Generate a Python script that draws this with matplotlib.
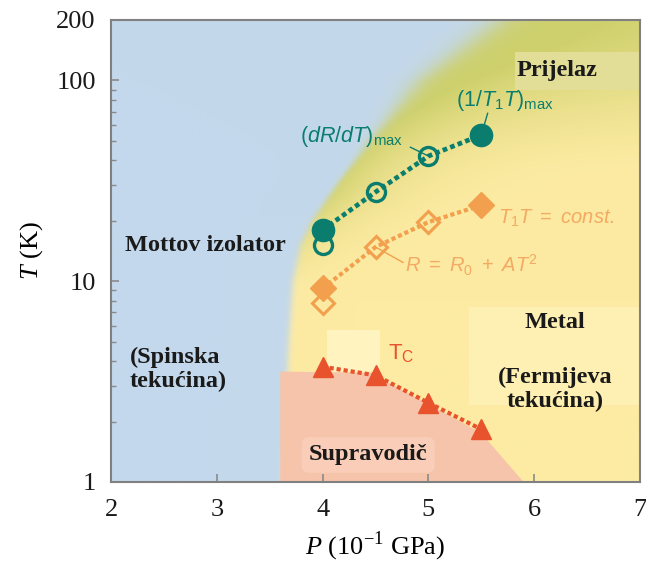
import numpy as np
import matplotlib
matplotlib.use("Agg")
import matplotlib.pyplot as plt
from matplotlib.patches import Rectangle

plt.rcParams['mathtext.fontset'] = 'custom'
plt.rcParams['mathtext.rm'] = 'Liberation Sans'
plt.rcParams['mathtext.it'] = 'Liberation Sans:italic'
plt.rcParams['mathtext.sf'] = 'Liberation Serif'
plt.rcParams['mathtext.bf'] = 'Liberation Serif:italic'

# ---- data (pressure in 10^-1 GPa, temperature in K) ----
P_nmr = [4.0, 5.5]                 # (1/T1T)max, filled circles
T_nmr_max = [18.0, 53.5]
P_res = [4.0, 4.5, 5.0]            # (dR/dT)max, open circles
T_dRdT_max = [15.1, 27.8, 42.0]
P_t1t = [4.0, 5.5]                 # T1T = const, filled diamonds
T_t1t_const = [9.2, 23.9]
P_fl = [4.0, 4.5, 5.0]             # R = R0 + AT^2, open diamonds
T_fl = [7.8, 14.8, 19.7]
P_sc = [4.0, 4.5, 5.0, 5.5]        # Tc, triangles
T_c = [3.75, 3.40, 2.48, 1.83]

# phase boundary Mott insulator / metal (log10 T -> P)
bound_logT = [0.0, 0.7, 1.0, 1.18, 1.3, 1.5, 1.7, 2.0, 2.31]
bound_P = [3.62, 3.68, 3.72, 3.79, 3.9, 4.16, 4.45, 4.92, 5.7]
# superconducting dome outline
sc_P = [3.6, 3.6, 4.45, 5.0, 5.5, 5.9]
sc_T = [1.0, 3.55, 3.5, 2.45, 1.75, 1.0]

xticks = [2, 3, 4, 5, 6, 7]
yticks = [1, 10, 100, 200]
xmin, xmax, ymin, ymax = 2, 7, 1, 200

fig = plt.figure(figsize=(6.46, 5.70), dpi=100)
ax = fig.add_axes([111/646, 1-482/570, (640-111)/646, (482-20)/570])
ax.set_xscale('linear')
ax.set_yscale('log')
ax.set_xlim(xmin, xmax)
ax.set_ylim(ymin, ymax)

# ---- background colour field ----
def smooth(a, b, x):
    t = np.clip((x - a) / (b - a), 0, 1)
    return t * t * (3 - 2 * t)

H, W = 500, 600
u = np.linspace(0, 1, W)
v = np.linspace(0, 1, H)
U, V = np.meshgrid(u, v)
X = xmin + (xmax - xmin) * U
LT = V * np.log10(ymax)
xb = np.interp(LT, bound_logT, bound_P)
d = X - xb
sig = 0.018 + 0.09 * smooth(1.5, 2.3, LT)
t = 1 / (1 + np.exp(-d / sig))
A = 0.9 * smooth(0.9, 1.5, LT)
s = 0.3 + 0.7 * smooth(1.0, 2.3, LT)
B = 0.65 * smooth(1.5, 2.3, LT)
w = np.clip(A * np.exp(-np.clip(d, 0, None) / s) + B, 0, 1)
blue = np.array([195, 216, 236]) / 255
yellow = np.array([253, 235, 163]) / 255
green = np.array([206, 208, 108]) / 255
other = yellow[None, None, :] * (1 - w[..., None]) + green[None, None, :] * w[..., None]
img = blue[None, None, :] * (1 - t[..., None]) + other * t[..., None]
ax.imshow(img, extent=(0, 1, 0, 1), transform=ax.transAxes, origin='lower',
          aspect='auto', zorder=0, interpolation='bilinear')

# superconducting region
ax.fill(sc_P, sc_T, color='#f6c4aa', lw=0, zorder=1)

# light label panels
ax.add_patch(Rectangle((5.82, 89.6), 1.18, 138.6 - 89.6, fc='#e2de98', ec='none', zorder=1.5))
ax.add_patch(Rectangle((5.38, 2.42), 1.62, 7.4 - 2.42, fc='#fef0b2', ec='none', zorder=1.5))
ax.add_patch(Rectangle((4.04, 3.53), 0.5, 5.72 - 3.53, fc='#fff4c0', ec='none', zorder=1.5))

teal = '#0a7d6e'
orange = '#f2a04e'
orange_txt = '#f4aa62'
red = '#e8522c'

# teal series line: filled -> open -> open -> filled
teal_P = [P_nmr[0], P_res[1], P_res[2], P_nmr[1]]
teal_T = [T_nmr_max[0], T_dRdT_max[1], T_dRdT_max[2], T_nmr_max[1]]
ax.plot(teal_P, teal_T, ls=(0, (1, 0.7)), lw=3.4, color=teal, zorder=3)
ax.plot(P_res, T_dRdT_max, ls='none', marker='o', ms=13, mfc='none', mec=teal, mew=2.4, zorder=4)
ax.plot(P_nmr, T_nmr_max, ls='none', marker='o', ms=16, mfc=teal, mec=teal, zorder=4)

or_P = [P_t1t[0], P_fl[1], P_fl[2], P_t1t[1]]
or_T = [T_t1t_const[0], T_fl[1], T_fl[2], T_t1t_const[1]]
ax.plot(or_P, or_T, ls=(0, (1, 0.7)), lw=3.0, color=orange, zorder=3)
ax.plot(P_fl, T_fl, ls='none', marker='D', ms=11, mfc='none', mec=orange, mew=2.2, zorder=4)
ax.plot(P_t1t, T_t1t_const, ls='none', marker='D', ms=13, mfc=orange, mec=orange, zorder=4)

ax.plot(P_sc, T_c, ls=(0, (1, 0.7)), lw=3.0, color=red, zorder=3)
ax.plot(P_sc, T_c, ls='none', marker='^', ms=15, mfc=red, mec=red, zorder=4)

# leader lines
ax.plot([4.83, P_res[2]], [46.5, T_dRdT_max[2]], color=teal, lw=1.0, zorder=3)
ax.plot([5.56, P_nmr[1]], [68.6, T_nmr_max[1]], color=teal, lw=1.0, zorder=3)
ax.plot([P_fl[1], 4.76], [T_fl[1], 12.4], color=orange, lw=1.0, zorder=3)

# series labels
ax.text(3.79, 52.3, r'$(dR/dT)_{\rm max}$', color=teal, fontsize=15.5, va='center', ha='left', zorder=5)
ax.text(5.26, 79, r'$(1/T_1T)_{\rm max}$', color=teal, fontsize=15.5, va='center', ha='left', zorder=5)
ax.text(5.66, 20.6, r'$T_1T\ =\ const.$', color=orange_txt, fontsize=14.5, va='center', ha='left', zorder=5)
ax.text(4.78, 12.0, r'$R\ =\ R_0\ +\ AT^2$', color=orange_txt, fontsize=14.5, va='center', ha='left', zorder=5)
ax.text(4.62, 4.35, r'$\mathrm{T}_\mathrm{C}$', color=red, fontsize=16, va='center', ha='left', zorder=5)

# region labels
bold = dict(family='Liberation Serif', fontweight='bold', color='#1a1a1a', zorder=5)
fs = 17.5
ax.text(2.89, 15.1, 'Mottov izolator', fontsize=fs, ha='center', va='center', **bold)
ax.text(2.18, 3.65, '(Spinska\ntekućina)', fontsize=fs, ha='left', va='center', linespacing=1.2, **bold)
ax.text(6.2, 6.26, 'Metal', fontsize=fs, ha='center', va='center', **bold)
ax.text(6.2, 2.9, '(Fermijeva\ntekućina)', fontsize=fs, ha='center', va='center', linespacing=1.2, **bold)
ax.text(4.43, 1.363, 'Supravodič', fontsize=fs, ha='center', va='center',
        bbox=dict(boxstyle='round,pad=0.3', fc='#f9cdb8', ec='none'), **bold)
ax.text(6.215, 112, 'Prijelaz', fontsize=fs, ha='center', va='center', **bold)

# axes styling
ax.set_xticks(xticks)
ax.set_xticklabels([str(x) for x in xticks])
ax.set_yticks(yticks)
ax.set_yticklabels([str(y) for y in yticks])
ax.yaxis.set_minor_locator(matplotlib.ticker.LogLocator(base=10, subs=np.arange(2, 10)))
ax.yaxis.set_minor_formatter(matplotlib.ticker.NullFormatter())
ax.tick_params(axis='both', which='both', direction='in', colors='#8a8a8a',
               labelcolor='#1a1a1a', top=False, right=False)
ax.tick_params(axis='both', which='major', length=6, width=1.2, labelsize=19)
ax.tick_params(axis='x', which='major', pad=12)
ax.tick_params(axis='y', which='major', pad=11)
ax.tick_params(axis='y', which='minor', length=3.5, width=1.0)
for lab in ax.get_xticklabels() + ax.get_yticklabels():
    lab.set_family('Liberation Serif')
for sp in ax.spines.values():
    sp.set_color('#808080')
    sp.set_linewidth(1.5)
    sp.set_zorder(6)

ax.set_xlabel(r'$\mathbf{P}$ (10$^{\mathsf{-1}}$ GPa)', family='Liberation Serif', fontsize=19, labelpad=7)
ax.set_ylabel(r'$\mathbf{T}$ (K)', family='Liberation Serif', fontsize=19, labelpad=8)

fig.savefig('out.png', dpi=100)
